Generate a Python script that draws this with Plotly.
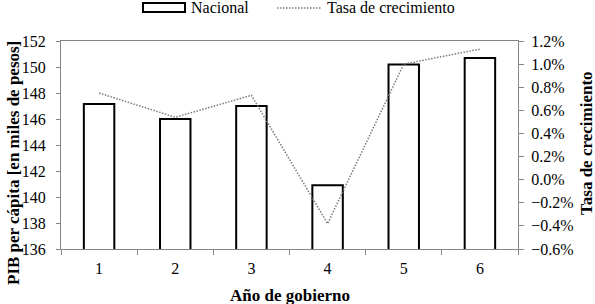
import plotly.graph_objects as go

# Data
years = ["1", "2", "3", "4", "5", "6"]
pib_nacional = [147.15, 146.0, 147.0, 140.9, 150.2, 150.7]
tasa_crecimiento = [0.0075, 0.0054, 0.0073, -0.0038, 0.0100, 0.0113]

W, H = 595, 304
L, R, T, B = 61, 77, 41, 55
pw, ph = W - L - R, H - T - B

def px(x):
    return (x - L) / pw

def py(y):
    return (H - B - y) / ph

FAM = "Liberation Serif"
AXIS_COL = "#868686"
LINE_COL = "#7a7a7a"
LINE_DASH = "1.5px,1.5px"

def f(size=16):
    return dict(family=FAM, size=size, color="black")

fig = go.Figure()
fig.add_trace(go.Bar(
    x=years, y=pib_nacional, name="Nacional",
    marker=dict(color="white", line=dict(color="black", width=2)),
    showlegend=False,
))
fig.add_trace(go.Scatter(
    x=years, y=tasa_crecimiento, name="Tasa de crecimiento", yaxis="y2",
    mode="lines", line=dict(color=LINE_COL, width=1.5, dash=LINE_DASH),
    showlegend=False,
))

fig.update_layout(
    width=W, height=H,
    margin=dict(l=L, r=R, t=T, b=B, pad=0),
    paper_bgcolor="white", plot_bgcolor="white",
    font=f(),
    bargap=0.6,
    xaxis=dict(
        type="category", showgrid=False, showline=True, linecolor=AXIS_COL,
        linewidth=1, mirror=True, ticks="outside", tickson="boundaries",
        ticklen=5, tickcolor=AXIS_COL, tickfont=f(), ticklabelstandoff=5,
    ),
    yaxis=dict(
        range=[136, 152], dtick=2, showgrid=False, showline=True,
        linecolor=AXIS_COL, linewidth=1, ticks="outside", ticklen=4,
        tickcolor=AXIS_COL, zeroline=False, tickfont=f(), ticklabelstandoff=7,
    ),
    yaxis2=dict(
        range=[-0.006, 0.012], dtick=0.002, tickformat=".1%", overlaying="y",
        side="right", showgrid=False, showline=True, linecolor=AXIS_COL,
        linewidth=1, ticks="outside", ticklen=5, tickcolor=AXIS_COL,
        zeroline=False, tickfont=f(), ticklabelstandoff=4,
    ),
)

# Axis titles
fig.add_annotation(text="<b>Año de gobierno</b>", xref="paper", yref="paper",
                   x=px(289.5), y=py(295), showarrow=False,
                   font=f(17), xanchor="center", yanchor="middle")
fig.add_annotation(text="<b>PIB per cápita [en miles de pesos]</b>", xref="paper", yref="paper",
                   x=px(13), y=py(163), showarrow=False, textangle=-90,
                   font=f(17), xanchor="center", yanchor="middle")
fig.add_annotation(text="<b>Tasa de crecimiento</b>", xref="paper", yref="paper",
                   x=px(586), y=py(143), showarrow=False, textangle=-90,
                   font=f(17), xanchor="center", yanchor="middle")

# Custom legend
fig.add_shape(type="rect", xref="paper", yref="paper",
              x0=px(143), x1=px(185), y0=py(12), y1=py(3),
              line=dict(color="black", width=2), fillcolor="white")
fig.add_annotation(text="Nacional", xref="paper", yref="paper",
                   x=px(189), y=py(8), showarrow=False, xanchor="left",
                   yanchor="middle", font=f())
fig.add_shape(type="line", xref="paper", yref="paper",
              x0=px(277), x1=px(322), y0=py(8), y1=py(8),
              line=dict(color=LINE_COL, width=1.5, dash=LINE_DASH))
fig.add_annotation(text="Tasa de crecimiento", xref="paper", yref="paper",
                   x=px(325), y=py(8), showarrow=False, xanchor="left",
                   yanchor="middle", font=f())

fig.write_html("out.html", config={"displayModeBar": False},
               post_script="document.body.style.margin='0';")
